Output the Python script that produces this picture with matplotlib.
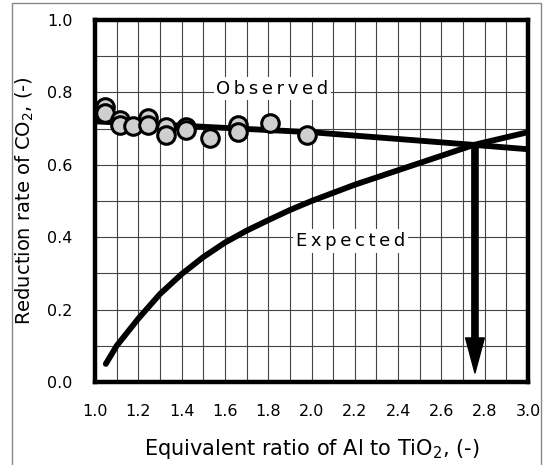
import matplotlib
matplotlib.use("Agg")
import matplotlib.pyplot as plt
from matplotlib.lines import Line2D
import numpy as np

# Data
#---------------------------
obs_x = [1.046, 1.046, 1.115, 1.115, 1.175, 1.245, 1.245, 1.33, 1.33, 1.42, 1.42, 1.53, 1.66, 1.66, 1.81, 1.98]
obs_y = [0.760, 0.743, 0.724, 0.710, 0.707, 0.729, 0.710, 0.704, 0.682, 0.704, 0.696, 0.674, 0.710, 0.690, 0.715, 0.682]

fit_x = [1.0, 2.0, 2.75, 3.0]       # observed trend line
fit_y = [0.720, 0.690, 0.655, 0.643]

exp_x = [1.05, 1.10, 1.20, 1.30, 1.40, 1.50, 1.60, 1.70, 1.80, 1.90, 2.00, 2.20, 2.40, 2.60, 2.75, 3.00]
exp_y = [0.050, 0.100, 0.175, 0.243, 0.298, 0.345, 0.385, 0.418, 0.447, 0.475, 0.500, 0.545, 0.585, 0.625, 0.655, 0.690]

cross_x, cross_y = 2.755, 0.655    # intersection, arrow start
arrow_end_y = 0.025

x_ticks = np.round(np.arange(1.0, 3.01, 0.2), 1)
y_ticks = np.round(np.arange(0.0, 1.01, 0.2), 1)

# Figure
#---------------------------
fig = plt.figure(figsize=(5.48, 4.65), dpi=100)
ax = fig.add_axes([95/548, 1-382/465, 433/548, 362/465])

# grid every 0.1
ax.set_xticks(np.arange(1.0, 3.01, 0.1), minor=True)
ax.set_yticks(np.arange(0.0, 1.01, 0.1), minor=True)
ax.grid(True, which="both", color="#444444", lw=0.8, zorder=0)
ax.set_axisbelow(True)

ax.plot(fit_x, fit_y, color="black", lw=4.2, solid_capstyle="butt", zorder=3)
ax.plot(exp_x, exp_y, color="black", lw=4.2, solid_capstyle="round", solid_joinstyle="round", zorder=3)
ax.scatter(obs_x, obs_y, s=160, facecolor="#cfcfcf", edgecolor="black", linewidths=2.2, zorder=4)

ax.annotate("", xy=(cross_x, arrow_end_y), xytext=(cross_x, cross_y),
            arrowprops=dict(arrowstyle="simple,tail_width=0.25,head_width=0.75,head_length=1.4",
                            mutation_scale=18, color="black", shrinkA=0, shrinkB=0), zorder=5)

ax.text(1.82, 0.81, "O b s e r v e d".replace(" ", "\u2009"), fontsize=13, ha="center", va="center",
        bbox=dict(facecolor="white", edgecolor="none", pad=2), zorder=6)
ax.text(2.18, 0.39, "E x p e c t e d".replace(" ", "\u2009"), fontsize=13, ha="center", va="center",
        bbox=dict(facecolor="white", edgecolor="none", pad=2), zorder=6)

ax.set_xlim(1.0, 3.0)
ax.set_ylim(0.0, 1.0)
ax.set_xticks(x_ticks)
ax.set_yticks(y_ticks)
ax.set_xticklabels(["%.1f" % v for v in x_ticks])
ax.set_yticklabels(["%.1f" % v for v in y_ticks])
ax.tick_params(which="both", length=0, labelsize=11.5, pad=16)
ax.tick_params(axis="y", pad=16)
for s in ax.spines.values():
    s.set_linewidth(3.2)

ax.set_xlabel("Equivalent ratio of Al to TiO$_2$, (-)", fontsize=15, labelpad=13)
ax.set_ylabel("Reduction rate of CO$_2$, (-)", fontsize=14, labelpad=8)

# thin frame round the figure, open at the bottom
fx0, fx1, fy = 12/548, 541/548, 1-3/465
fig.add_artist(Line2D([fx0, fx0, fx1, fx1], [0, fy, fy, 0], color="#888888", lw=1.0))

plt.savefig("out.png", dpi=100)
